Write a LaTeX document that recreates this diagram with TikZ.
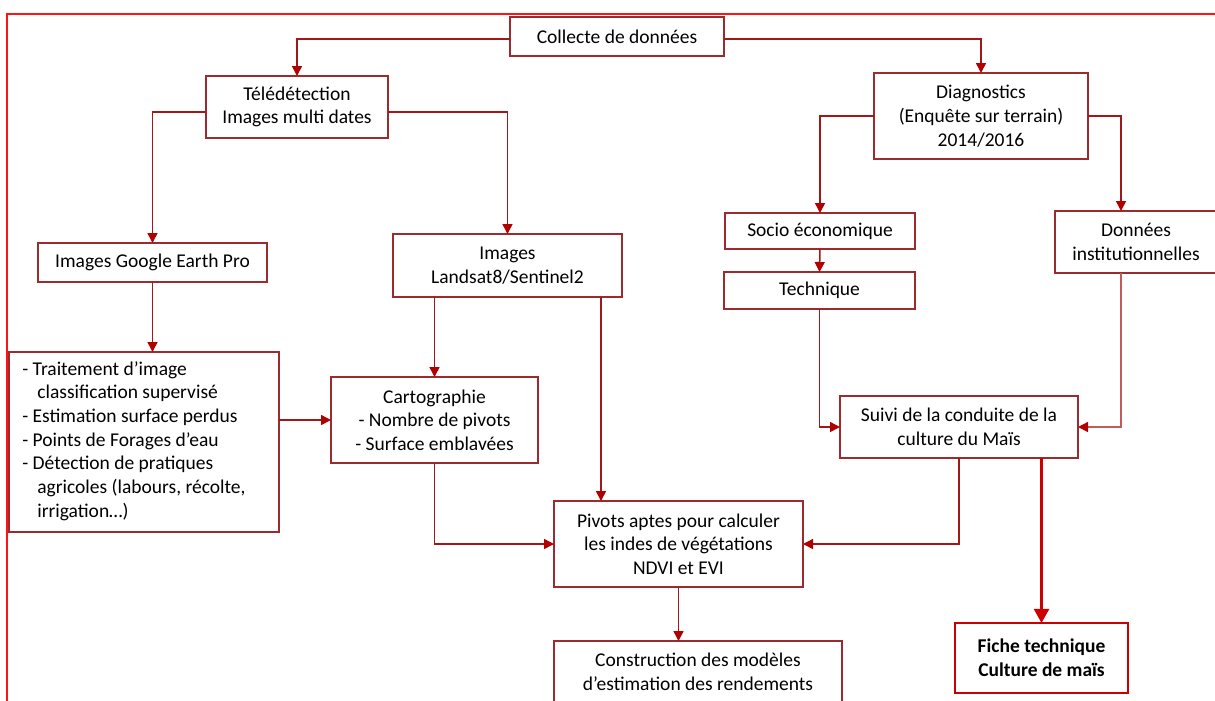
\documentclass[tikz,border=0pt]{standalone}
\usepackage{fontspec}
\setmainfont{Carlito}
\usetikzlibrary{arrows.meta,calc}
\definecolor{boxred}{HTML}{9B2B2F}
\definecolor{linered}{HTML}{A01818}
\definecolor{lightline}{HTML}{C55A5A}
\definecolor{headred}{HTML}{B00000}
\definecolor{framered}{HTML}{FF1414}
\definecolor{ficheRed}{HTML}{CC0000}
\begin{document}
\begin{tikzpicture}[x=0.6pt, y=-0.6pt,
  font=\fontsize{11.7}{14.2}\selectfont,
  box/.style={draw=boxred, line width=0.9pt, inner sep=0pt, outer sep=0pt, align=center},
  fichebox/.style={draw=ficheRed, line width=1.6pt, inner sep=0pt, outer sep=0pt, align=center, font=\fontsize{11.7}{14.2}\selectfont\bfseries},
  conn/.style={draw=linered, line width=0.9pt, -{Triangle[length=6pt,width=6pt,color=headred]}},
  lightconn/.style={conn, draw=lightline},
  thickconn/.style={draw=ficheRed, line width=1.6pt, -{Triangle[length=8.5pt,width=9pt,color=ficheRed]}}
]
\useasboundingbox (0,0) rectangle (1215,700);
\clip (0,0) rectangle (1215,700);
\fill[white] (0,0) rectangle (1215,700);
\draw[framered, line width=1.3pt] (7,14) rectangle (1240,720);

% boxes
\node[box, minimum width=128.4pt, minimum height=23.4pt] (col) at (617,36.5) {Collecte de données};
\node[box, minimum width=109.2pt, minimum height=37.2pt] (tele) at (297,107) {Télédétection\\Images multi dates};
\node[box, minimum width=137.4pt, minimum height=23.4pt] (google) at (152.5,262.5) {Images Google Earth Pro};
\node[box, minimum width=137.4pt, minimum height=37.8pt] (land) at (507.5,265.5) {Images\\Landsat8/Sentinel2};
\node[box, minimum width=162pt, minimum height=108pt] (trt) at (144,442) {};
\node[anchor=west, align=left, inner sep=0pt] (trttext) at (22,441) {- Traitement d’image\\\hspace*{9pt}classification supervisé\\- Estimation surface perdus\\- Points de Forages d’eau\\- Détection de pratiques\\\hspace*{9pt}agricoles (labours, récolte,\\\hspace*{9pt}irrigation…)};
\node[box, minimum width=124.2pt, minimum height=51.6pt] (carto) at (434.5,420) {Cartographie\\- Nombre de pivots\\- Surface emblavées};
\node[box, minimum width=149.4pt, minimum height=51.6pt] (piv) at (678.5,544) {Pivots aptes pour calculer\\les indes de végétations\\NDVI et EVI};
\node[box, minimum width=172.8pt, minimum height=36.6pt] (cons) at (698,671.5) {Construction des modèles\\d’estimation des rendements};
\node[box, minimum width=128.4pt, minimum height=51.6pt] (diag) at (981,116) {Diagnostics\\(Enquête sur terrain)\\2014/2016};
\node[box, minimum width=114pt, minimum height=21.6pt] (socio) at (820,231) {Socio économique};
\node[box, minimum width=114.6pt, minimum height=22.2pt] (tech) at (819.5,290.5) {Technique};
\node[box, minimum width=97.2pt, minimum height=37.2pt] (don) at (1136,242) {Données\\institutionnelles};
\node[box, minimum width=142.8pt, minimum height=37.2pt] (suivi) at (959,427) {Suivi de la conduite de la\\culture du Maïs};
\node[fichebox, minimum width=103.8pt, minimum height=42pt] (fiche) at (1041.5,658) {Fiche technique\\Culture de maïs};

% connectors
\draw[conn] ([yshift=-1.5pt]col.west) -| (tele.north);
\draw[conn] ([yshift=-1.5pt]col.east) -| (diag.north);
\draw[conn] ([yshift=-3pt]tele.west) -| (google.north);
\draw[conn] ([yshift=-3pt]tele.east) -| (land.north);
\draw[conn] (google.south) -- (google.south |- trt.north);
\draw[conn] (trt.east |- carto.west) -- (carto.west);
\draw[conn] (land.south -| carto.north) -- (carto.north);
\coordinate (lp) at ($(land.south east)+(-21,0)$);
\draw[conn] (lp) -- (lp |- piv.north);
\draw[conn] (carto.south) |- (piv.west);
\draw[conn] (piv.south) -- (piv.south |- cons.north);
\draw[conn] (diag.west) -| (socio.north);
\coordinate (dn) at ($(don.north west)+(66,0)$);
\draw[conn] (diag.east) -| (dn);
\draw[conn] (socio.south) -- (tech.north);
\draw[conn] (tech.south) |- (suivi.west);
\draw[lightconn] (dn |- don.south) |- (suivi.east);
\draw[conn] (suivi.south) |- (piv.east);
\draw[thickconn] (suivi.south -| fiche.north) -- (fiche.north);
\end{tikzpicture}
\end{document}
